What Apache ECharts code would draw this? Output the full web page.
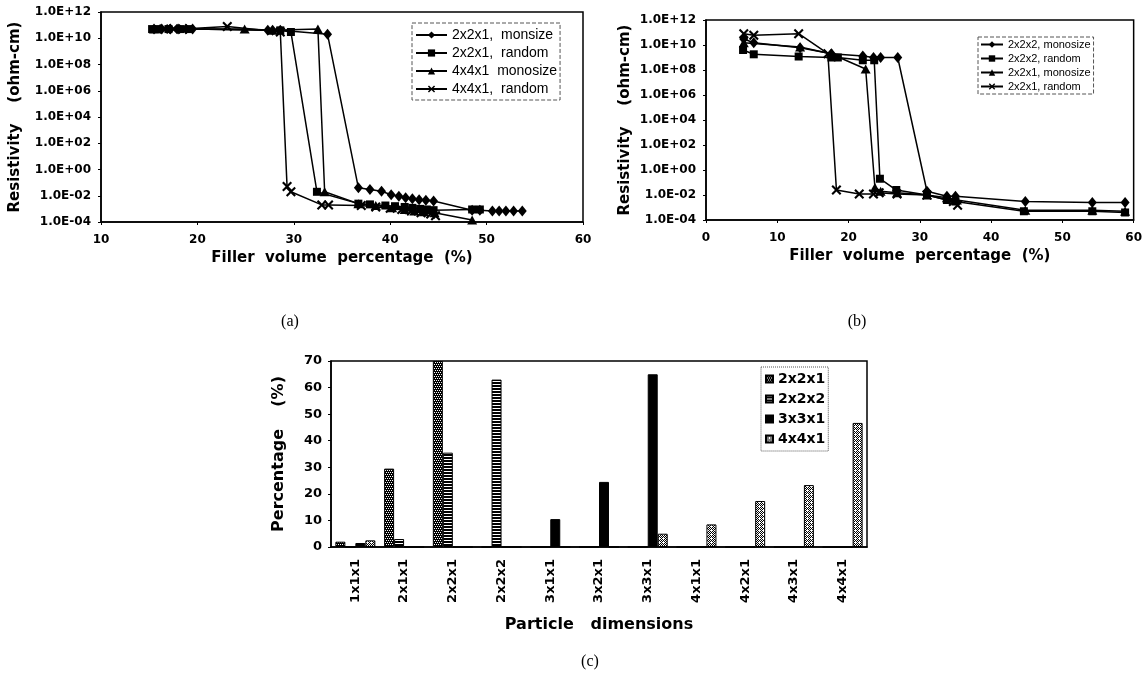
<!DOCTYPE html>
<html>
<head>
<meta charset="utf-8">
<script src="https://cdn.jsdelivr.net/npm/echarts@6/dist/echarts.min.js"></script>
<style>
  html, body { margin: 0; padding: 0; background: #fff; }
  #chart { width: 1145px; height: 683px; }
</style>
</head>
<body>
<div id="chart"></div>
<script>
const FONT = '"Liberation Sans", Arial, sans-serif';
const WIDE = '"DejaVu Sans", sans-serif';

// (a) resistivity vs filler volume %, [x, ohm-cm]
const aMono221 = [[15.5, 5e10], [16.3, 5e10], [17.2, 5e10], [18, 5e10], [18.8, 5e10], [19.5, 5e10], [27.3, 4e10], [27.8, 4e10], [28.6, 4e10], [33.5, 2e10], [36.7, 0.04], [37.9, 0.03], [39.1, 0.022], [40.1, 0.012], [40.9, 0.009], [41.6, 0.007], [42.3, 0.006], [43, 0.005], [43.7, 0.0045], [44.5, 0.004], [48.5, 0.0008], [49.3, 0.0008], [50.6, 0.0007], [51.3, 0.0007], [52, 0.0007], [52.8, 0.0007], [53.7, 0.0007]];
const aRand221 = [[15.3, 5e10], [16, 5e10], [17, 5e10], [18.2, 5e10], [19.2, 5e10], [28.6, 4e10], [29.7, 3e10], [32.4, 0.02], [36.7, 0.0025], [37.9, 0.0022], [39.5, 0.0018], [40.5, 0.0016], [41.5, 0.0014], [42.3, 0.0012], [43.1, 0.001], [43.8, 0.0009], [44.5, 0.0008], [48.5, 0.0009], [49.3, 0.0009]];
const aMono441 = [[15.5, 5e10], [24.9, 5e10], [27.8, 4e10], [32.5, 5e10], [33.2, 0.02], [36.7, 0.0025], [38.5, 0.0018], [40.2, 0.0012], [41.5, 0.0009], [42.5, 0.0007], [43.5, 0.0006], [44.6, 0.0005], [48.5, 0.00014]];
const aRand441 = [[16.5, 5e10], [17.5, 5e10], [18.5, 5e10], [23.1, 8e10], [28.6, 3e10], [29.3, 0.05], [29.7, 0.02], [32.9, 0.002], [33.6, 0.002], [37, 0.0018], [38.5, 0.0014], [40, 0.0011], [41.2, 0.0009], [42.2, 0.0007], [43.2, 0.0005], [44.2, 0.0004], [44.7, 0.0003]];

// (b)
const bMono222 = [[5.3, 3e10], [6.7, 1.5e10], [13.2, 6e9], [17.6, 2e9], [22, 1.3e9], [23.5, 1e9], [24.5, 1e9], [26.9, 1e9], [31, 0.02], [33.8, 0.008], [35, 0.008], [44.8, 0.003], [54.2, 0.0025], [58.8, 0.0025]];
const bRand222 = [[5.2, 4e9], [6.7, 1.8e9], [13, 1.2e9], [17.6, 1e9], [18.5, 1e9], [22, 6e8], [23.6, 6e8], [24.4, 0.2], [26.7, 0.025], [31, 0.01], [33.8, 0.004], [35, 0.003], [44.6, 0.0005], [54.2, 0.0005], [58.8, 0.0004]];
const bMono221 = [[5.3, 1.5e10], [13.2, 7e9], [17.5, 2e9], [22.4, 1.2e8], [23.7, 0.04], [24.5, 0.02], [26.8, 0.015], [31, 0.01], [33.8, 0.006], [35.2, 0.004], [44.8, 0.0006], [54.2, 0.0006], [58.8, 0.0005]];
const bRand221 = [[5.3, 8e10], [6.7, 6e10], [13, 8e10], [17.1, 2e9], [18.3, 0.025], [21.5, 0.012], [23.5, 0.012], [24.3, 0.015], [26.8, 0.012], [31, 0.01], [34.7, 0.003], [35.3, 0.0015]];

// (c) percentage by particle dimension
const cCategories = ['1x1x1', '2x1x1', '2x2x1', '2x2x2', '3x1x1', '3x2x1', '3x3x1', '4x1x1', '4x2x1', '4x3x1', '4x4x1'];
const c221 = [2, 29.5, 70, 0, 0, 0, 0, 0, 0, 0, 0];
const c222 = [0, 3, 35.5, 63, 0, 0, 0, 0, 0, 0, 0];
const c331 = [1.5, 0, 0, 0, 10.5, 24.5, 65, 0, 0, 0, 0];
const c441 = [2.5, 0, 0, 0, 0, 0, 5, 8.5, 17.3, 23.3, 46.7];

const X_SYMBOL = 'path://M0,1.5 L1.5,0 L5,3.5 L8.5,0 L10,1.5 L6.5,5 L10,8.5 L8.5,10 L5,6.5 L1.5,10 L0,8.5 L3.5,5 Z';

function toLog(points) {
  return points.map(p => [p[0], Math.log10(p[1])]);
}

function expLabel(v) {
  const e = Math.round(v);
  const a = Math.abs(e);
  return '1.0E' + (e < 0 ? '-' : '+') + (a < 10 ? '0' + a : a);
}

function makePattern(rows) {
  const c = document.createElement('canvas');
  c.width = rows[0].length;
  c.height = rows.length;
  const ctx = c.getContext('2d');
  ctx.fillStyle = '#fff';
  ctx.fillRect(0, 0, c.width, c.height);
  ctx.fillStyle = '#000';
  rows.forEach((r, y) => {
    for (let x = 0; x < r.length; x++) {
      if (r[x] === '1') ctx.fillRect(x, y, 1, 1);
    }
  });
  return { image: c, repeat: 'repeat' };
}

function lineSeries(name, data, symbol, size, idx) {
  return {
    name,
    type: 'line',
    xAxisIndex: idx,
    yAxisIndex: idx,
    data: toLog(data),
    symbol,
    symbolSize: size,
    lineStyle: { color: '#000', width: 1.5 },
    itemStyle: { color: '#000' },
    emphasis: { disabled: true }
  };
}

function barSeries(name, data, fill) {
  return {
    name,
    type: 'bar',
    xAxisIndex: 2,
    yAxisIndex: 2,
    data,
    barGap: '0%',
    barCategoryGap: '18%',
    itemStyle: { color: fill, borderColor: '#000', borderWidth: 1 },
    emphasis: { disabled: true }
  };
}

const axisText = { color: '#000', fontFamily: WIDE, fontSize: 12, fontWeight: 'bold' };
const nameText = { color: '#000', fontFamily: WIDE, fontSize: 15, fontWeight: 'bold' };
const blackLine = { show: true, onZero: false, lineStyle: { color: '#000', width: 1.5 } };
const blackTick = { show: true, length: 3, lineStyle: { color: '#000' } };

function resistXAxis(grid, min) {
  return {
    gridIndex: grid, type: 'value', min, max: 60, interval: 10,
    axisLine: blackLine, axisTick: blackTick,
    axisLabel: Object.assign({ margin: 12 }, axisText),
    splitLine: { show: false },
    name: 'Filler  volume  percentage  (%)', nameLocation: 'middle', nameGap: 29,
    nameTextStyle: nameText
  };
}

function resistYAxis(grid, gap) {
  return {
    gridIndex: grid, type: 'value', min: -4, max: 12, interval: 2,
    axisLine: blackLine, axisTick: blackTick,
    axisLabel: Object.assign({ margin: 10, formatter: expLabel }, axisText),
    splitLine: { show: false },
    name: 'Resistivity    (ohm-cm)', nameLocation: 'middle', nameGap: gap, nameRotate: 90,
    nameTextStyle: nameText
  };
}

const fill221 = makePattern(['0101', '1111', '1010', '1111']);
const fill222 = makePattern(['0', '1', '1']);
const fill441 = makePattern(['0101', '1010', '0100', '1010']);

const chart = echarts.init(document.getElementById('chart'));

const option = {
  backgroundColor: '#fff',
  animation: false,
  grid: [
    { left: 101, top: 12, width: 482, height: 210, show: true, borderColor: '#000', borderWidth: 1.5 },
    { left: 706, top: 20, width: 430, height: 200, show: true, borderColor: '#000', borderWidth: 1.5 },
    { left: 331, top: 361, width: 536, height: 186, show: true, borderColor: '#000', borderWidth: 1.5 }
  ],
  xAxis: [
    resistXAxis(0, 10),
    resistXAxis(1, 0),
    {
      gridIndex: 2, type: 'category', data: cCategories,
      axisLine: blackLine, axisTick: { show: false },
      axisLabel: Object.assign({ rotate: 90, margin: 12 }, axisText, { fontSize: 13 }),
      name: 'Particle   dimensions', nameLocation: 'middle', nameGap: 70,
      nameTextStyle: Object.assign({}, nameText, { fontSize: 16 })
    }
  ],
  yAxis: [
    resistYAxis(0, 78),
    resistYAxis(1, 73),
    {
      gridIndex: 2, type: 'value', min: 0, max: 70, interval: 10,
      axisLine: blackLine, axisTick: blackTick,
      axisLabel: Object.assign({ margin: 9 }, axisText, { fontSize: 13 }),
      splitLine: { show: false },
      name: 'Percentage    (%)', nameLocation: 'middle', nameGap: 44, nameRotate: 90,
      nameTextStyle: Object.assign({}, nameText, { fontSize: 16 })
    }
  ],
  legend: [
    {
      orient: 'vertical', left: 412, top: 23, padding: [5, 3, 4, 3],
      itemWidth: 31, itemHeight: 9, itemGap: 4,
      borderColor: '#555', borderWidth: 1, borderType: 'dashed',
      textStyle: { color: '#000', fontFamily: FONT, fontSize: 14 },
      data: ['2x2x1,  monsize', '2x2x1,  random', '4x4x1  monosize', '4x4x1,  random']
    },
    {
      orient: 'vertical', left: 978, top: 37, padding: [2, 3, 2, 2],
      itemWidth: 22, itemHeight: 8, itemGap: 3,
      borderColor: '#555', borderWidth: 1, borderType: 'dashed',
      textStyle: { color: '#000', fontFamily: FONT, fontSize: 11 },
      data: ['2x2x2, monosize', '2x2x2, random', '2x2x1, monosize', '2x2x1, random']
    },
    {
      orient: 'vertical', left: 761, top: 367, padding: [5, 3, 5, 4],
      itemWidth: 7, itemHeight: 7, itemGap: 6,
      borderColor: '#555', borderWidth: 1, borderType: 'dotted',
      textStyle: { color: '#000', fontFamily: WIDE, fontSize: 14, fontWeight: 'bold' },
      data: ['2x2x1', '2x2x2', '3x3x1', '4x4x1'].map(n => ({ name: n, icon: 'rect' }))
    }
  ],
  series: [
    lineSeries('2x2x1,  monsize', aMono221, 'diamond', [9, 11], 0),
    lineSeries('2x2x1,  random', aRand221, 'rect', 8, 0),
    lineSeries('4x4x1  monosize', aMono441, 'triangle', [10, 9], 0),
    lineSeries('4x4x1,  random', aRand441, X_SYMBOL, 10, 0),
    lineSeries('2x2x2, monosize', bMono222, 'diamond', [9, 11], 1),
    lineSeries('2x2x2, random', bRand222, 'rect', 8, 1),
    lineSeries('2x2x1, monosize', bMono221, 'triangle', [10, 9], 1),
    lineSeries('2x2x1, random', bRand221, X_SYMBOL, 10, 1),
    barSeries('2x2x1', c221, fill221),
    barSeries('2x2x2', c222, fill222),
    barSeries('3x3x1', c331, '#000'),
    barSeries('4x4x1', c441, fill441)
  ],
  graphic: [
    { type: 'text', x: 290, y: 322, style: { text: '(a)', align: 'center', verticalAlign: 'middle', font: '16px "Liberation Serif", serif', fill: '#000' } },
    { type: 'text', x: 857, y: 322, style: { text: '(b)', align: 'center', verticalAlign: 'middle', font: '16px "Liberation Serif", serif', fill: '#000' } },
    { type: 'text', x: 590, y: 662, style: { text: '(c)', align: 'center', verticalAlign: 'middle', font: '16px "Liberation Serif", serif', fill: '#000' } }
  ]
};

chart.setOption(option);
</script>
</body>
</html>
